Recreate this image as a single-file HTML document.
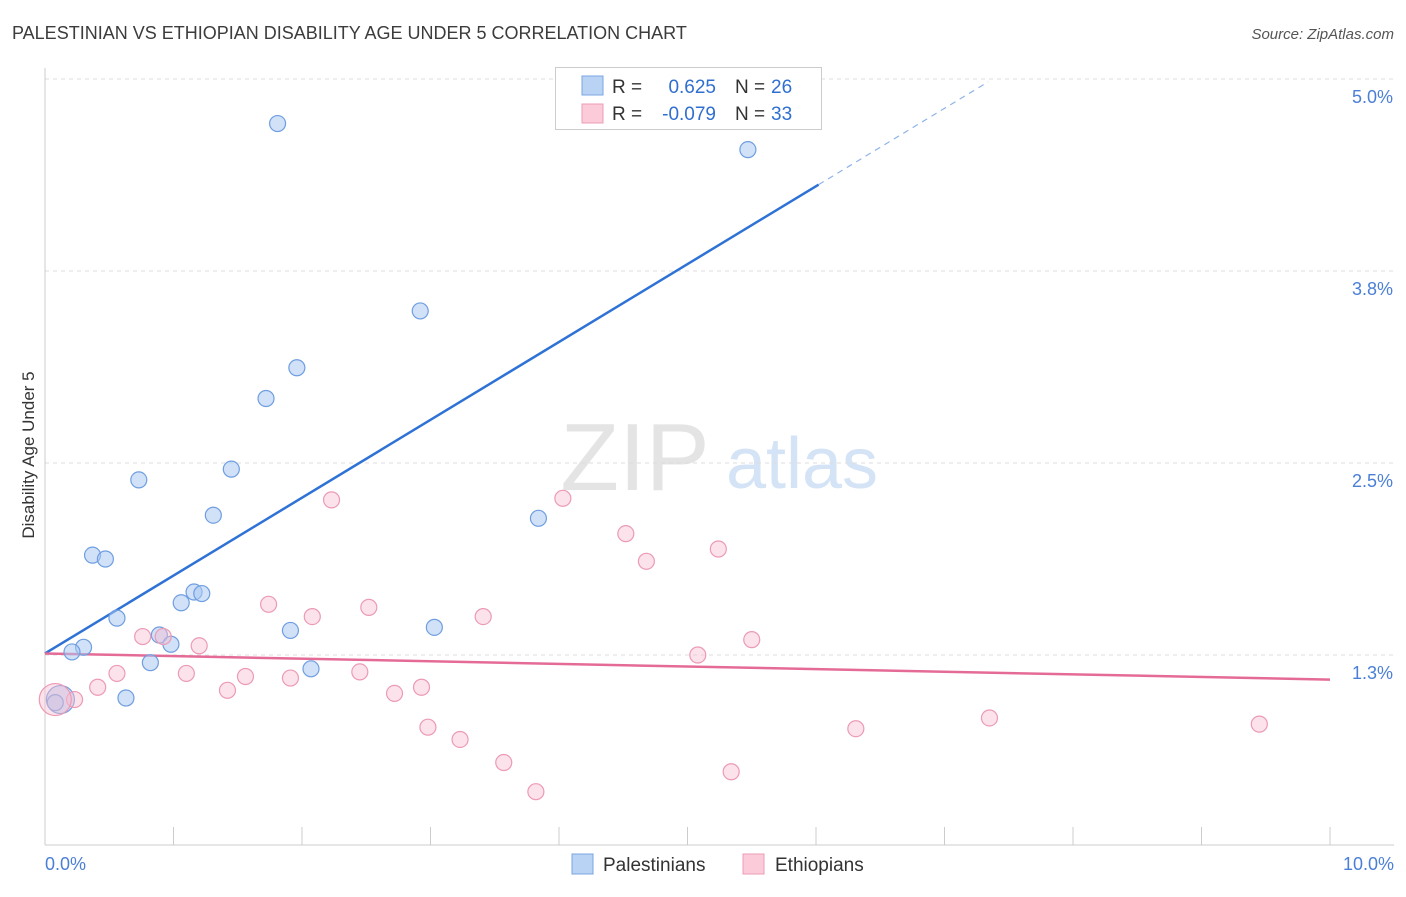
<!DOCTYPE html>
<html><head><meta charset="utf-8"><style>
body{margin:0;background:#fff;font-family:"Liberation Sans",sans-serif;}
svg text{font-family:"Liberation Sans",sans-serif;}
</style></head><body>
<svg id="chart" width="1406" height="892" viewBox="0 0 1406 892" xmlns="http://www.w3.org/2000/svg">
<text x="12" y="39" font-size="18" fill="#3c3c3c">PALESTINIAN VS ETHIOPIAN DISABILITY AGE UNDER 5 CORRELATION CHART</text>
<text x="1394" y="39" font-size="15" fill="#555" font-style="italic" text-anchor="end">Source: ZipAtlas.com</text>
<g>
<text x="635" y="490" font-size="96" fill="#e4e4e4" font-family="Liberation Serif" text-anchor="middle">ZIP</text>
<text x="802" y="488" font-size="72" fill="#d4e3f5" text-anchor="middle">atlas</text>
</g>
<g id="grid"></g>
<g id="axes"></g>
<g id="lines"></g>
<g id="points"></g>
<text transform="translate(34,455) rotate(-90)" font-size="17" fill="#333" text-anchor="middle">Disability Age Under 5</text>
<g>
<rect x="555.5" y="67.5" width="266" height="62" fill="#fff" stroke="#ccc"/>
<rect x="582" y="76" width="21" height="19" fill="#b9d3f5" stroke="#7aa6e0"/>
<rect x="582" y="104" width="21" height="19" fill="#fbcbd9" stroke="#ee9bb5"/>
<text x="612" y="93" font-size="19" fill="#333">R = </text><text x="716" y="93" font-size="19" fill="#2f6fd0" text-anchor="end">0.625</text>
<text x="735" y="93" font-size="19" fill="#333">N = </text><text x="771" y="93" font-size="19" fill="#2f6fd0">26</text>
<text x="612" y="120" font-size="19" fill="#333">R = </text><text x="716" y="120" font-size="19" fill="#2f6fd0" text-anchor="end">-0.079</text>
<text x="735" y="120" font-size="19" fill="#333">N = </text><text x="771" y="120" font-size="19" fill="#2f6fd0">33</text>
</g>
<g>
<rect x="572" y="854" width="21" height="20" fill="#b9d3f5" stroke="#7aa6e0"/>
<text x="603" y="871" font-size="19" fill="#333">Palestinians</text>
<rect x="743" y="854" width="21" height="20" fill="#fbcbd9" stroke="#ee9bb5"/>
<text x="775" y="871" font-size="19" fill="#333">Ethiopians</text>
</g>
</svg>
<script>
const xTicks=[0,1,2,3,4,5,6,7,8,9,10];
const yTicks=[1.25,2.5,3.75,5.0];
const yTickLabels=["1.3%","2.5%","3.8%","5.0%"];
const xEndLabels=["0.0%","10.0%"];
const palX=[1.81,5.47,2.92,1.96,1.72,1.45,0.73,1.31,3.84,0.37,0.47,0.56,1.16,1.22,1.06,1.91,3.03,0.89,0.98,0.30,0.21,0.82,2.07,0.63,0.12,0.08];
const palY=[4.71,4.54,3.49,3.12,2.92,2.46,2.39,2.16,2.14,1.90,1.875,1.49,1.66,1.65,1.59,1.41,1.43,1.38,1.32,1.30,1.27,1.20,1.16,0.97,0.96,0.94];
const ethX=[2.23,4.03,4.52,4.68,5.24,1.74,2.08,2.52,3.41,0.76,0.92,1.20,5.50,5.08,0.56,1.10,1.56,2.45,0.41,1.42,1.91,2.72,2.93,0.23,0.08,2.98,3.23,3.57,3.82,5.34,6.31,7.35,9.45];
const ethY=[2.26,2.27,2.04,1.86,1.94,1.58,1.50,1.56,1.50,1.37,1.37,1.31,1.35,1.25,1.13,1.13,1.11,1.14,1.04,1.02,1.10,1.00,1.04,0.96,0.96,0.78,0.70,0.55,0.36,0.49,0.77,0.84,0.80];
const palTrend=[1.26,0.507];
const ethTrend=[1.26,-0.017];
const palSolidEnd=6.02, palDashEnd=7.34;

const X=v=>45+v*128.5;
const Y=v=>79+(5.0-v)*153.6;
const NS="http://www.w3.org/2000/svg";
function mk(parent,tag,attrs){const e=document.createElementNS(NS,tag);for(const k in attrs)e.setAttribute(k,attrs[k]);document.getElementById(parent).appendChild(e);return e;}

yTicks.forEach((t,i)=>{
  const g=mk('grid','line',{x1:45,x2:1394,y1:Y(t),y2:Y(t),stroke:'#ddd','stroke-dasharray':'4,4'});
  
  
  const l=mk('axes','text',{x:1393,y:Y(t)+24,'font-size':18,fill:'#4a7fd6','text-anchor':'end'});
  l.textContent=yTickLabels[i];
  
  
});
const ax=mk('axes','line',{x1:45,x2:45,y1:68,y2:845,stroke:'#ccc'});


const bx=mk('axes','line',{x1:45,x2:1394,y1:845,y2:845,stroke:'#ccc'});


xTicks.forEach(t=>{
  const tk=mk('axes','line',{x1:X(t),x2:X(t),y1:827,y2:845,stroke:'#ccc'});
  
  
});
[[0,'start',45],[10,'end',1394]].forEach((d,i)=>{
  const l=mk('axes','text',{x:d[2],y:870,'font-size':18,fill:'#4a7fd6','text-anchor':d[1]});
  l.textContent=xEndLabels[i];
  
  
});

const pl=mk('lines','line',{x1:X(0),y1:Y(palTrend[0]),x2:X(palSolidEnd),y2:Y(palTrend[0]+palTrend[1]*palSolidEnd),stroke:'#2f72d6','stroke-width':2.5});


const pd=mk('lines','line',{x1:X(palSolidEnd),y1:Y(palTrend[0]+palTrend[1]*palSolidEnd),x2:X(palDashEnd),y2:Y(palTrend[0]+palTrend[1]*palDashEnd),stroke:'#8fb3e8','stroke-width':1.2,'stroke-dasharray':'6,5'});


const el=mk('lines','line',{x1:X(0),y1:Y(ethTrend[0]),x2:X(10),y2:Y(ethTrend[0]+ethTrend[1]*10),stroke:'#e56b97','stroke-width':2.5});



palX.forEach((x,i)=>{
  const r=(i===palX.length-2)?14:8;
  const c=mk('points','circle',{cx:X(x),cy:Y(palY[i]),r:r,fill:'rgba(170,200,242,0.55)',stroke:'#6f9ee0','stroke-width':1.2});
  
  
});
ethX.forEach((x,i)=>{
  const r=(i===24)?16:8;
  const c=mk('points','circle',{cx:X(x),cy:Y(ethY[i]),r:r,fill:'rgba(249,190,208,0.45)',stroke:'#ec9ab6','stroke-width':1.2});
  
  
});
</script>
</body></html>
